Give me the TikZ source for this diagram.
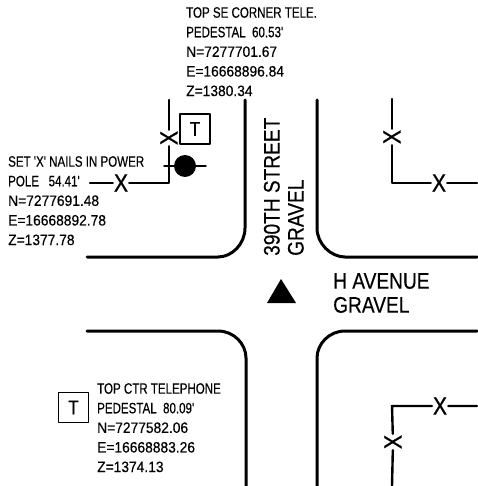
\documentclass[tikz,border=0pt]{standalone}
\usepackage{fontspec}
\newfontfamily\planfont[FakeStretch=.85,FakeBold=.4]{Liberation Sans}
\newfontfamily\capfont[FakeStretch=.77,FakeBold=.4]{Liberation Sans}
\newfontfamily\numfont[FakeStretch=.92,FakeBold=.4]{Liberation Sans}
\newfontfamily\markfont[FakeStretch=.85,FakeBold=.8]{Liberation Sans}
\begin{document}
\begin{tikzpicture}[x=1pt,y=-1pt,line join=round,line cap=round,
	road/.style={line width=3pt},
	fence/.style={line width=2.4pt},
	fencex/.style={font=\markfont\fontsize{25}{25}\selectfont,inner sep=0pt,minimum size=16pt},
	tbox/.style={draw,line width=1.7pt,font=\planfont\fontsize{20}{20}\selectfont,minimum size=30pt,inner sep=0pt},
	note/.style={font=\fontsize{15}{19.6}\selectfont,align=left,anchor=north west,inner sep=0pt},
	street/.style={font=\planfont\fontsize{22.5}{24}\selectfont,align=left,inner sep=0pt}]
	\useasboundingbox (0,0) rectangle (477,486);
	% road edges
	\draw[road] (245,100)--(245,228) .. controls +(0,16) and +(14,0) .. (218,257)--(87,257);
	\draw[road] (317,100)--(317,228) .. controls +(0,16) and +(-14,0) .. (345,257)--(477,257);
	\draw[road] (87,331)--(218,331) .. controls +(16,0) and +(0,-14) .. (246,358)--(246,486);
	\draw[road] (477,331)--(345,331) .. controls +(-16,0) and +(0,-14) .. (317,358)--(317,486);
	% top left fence
	\coordinate (tltop) at (169,100);
	\coordinate (tlcorner) at (169,183);
	\coordinate (tlend) at (90,183);
	\node[fencex,rotate=90] (tlv) at (169,138) {X};
	\node[fencex] (tlh) at (121,183) {X};
	\draw[fence] (tltop)--(tlv) (tlv)--(tlcorner)--(tlh) (tlh)--(tlend);
	\node[tbox] (tltele) at (195,129) {T};
	\coordinate (poleleft) at (164,166);
	\coordinate (poleright) at (206,166);
	\draw[line width=1.4pt] (poleleft)--(poleright);
	\node[circle,fill,minimum size=22pt,inner sep=0pt] (pole) at (185,166) {};
	% top right fence
	\coordinate (trtop) at (392,99);
	\coordinate (trcorner) at (392,183);
	\coordinate (trend) at (477,183);
	\node[fencex,rotate=90] (trv) at (392,137) {X};
	\node[fencex] (trh) at (439,183) {X};
	\draw[fence] (trtop)--(trv) (trv)--(trcorner)--(trh) (trh)--(trend);
	% bottom right fence
	\coordinate (brbot) at (392,486);
	\coordinate (brcorner) at (392,406);
	\coordinate (brend) at (477,406);
	\node[fencex,rotate=90] (brv) at (393,442) {X};
	\node[fencex] (brh) at (440,406) {X};
	\draw[fence] (brbot)--(brv) (brv)--(brcorner)--(brh) (brh)--(brend);
	\node[tbox] (brtele) at (73.5,407.5) {T};
	% center mark
	\fill (281,279)--(296,303)--(267,303)--cycle;
	% labels
	\node[note] (topnote) at (186,7) {\capfont TOP SE CORNER TELE.\\\capfont PEDESTAL\ \ 60.53'\\\numfont N=7277701.67\\\numfont E=16668896.84\\\numfont Z=1380.34};
	\node[note] (polenote) at (8,156) {\capfont SET 'X' NAILS IN POWER\\\capfont POLE\ \ \ 54.41'\\\numfont N=7277691.48\\\numfont E=16668892.78\\\numfont Z=1377.78};
	\node[note] (ctrnote) at (97,383) {\capfont TOP CTR TELEPHONE\\\capfont PEDESTAL\ \ 80.09'\\\numfont N=7277582.06\\\numfont E=16668883.26\\\numfont Z=1374.13};
	\node[street,rotate=90,anchor=south west] (street) at (280,256) {390TH STREET};
	\node[street,rotate=90,anchor=south west] (streetsurf) at (304,256) {GRAVEL};
	\node[street,anchor=north west] (avenue) at (333,273) {H AVENUE\\GRAVEL};
\end{tikzpicture}
\end{document}
